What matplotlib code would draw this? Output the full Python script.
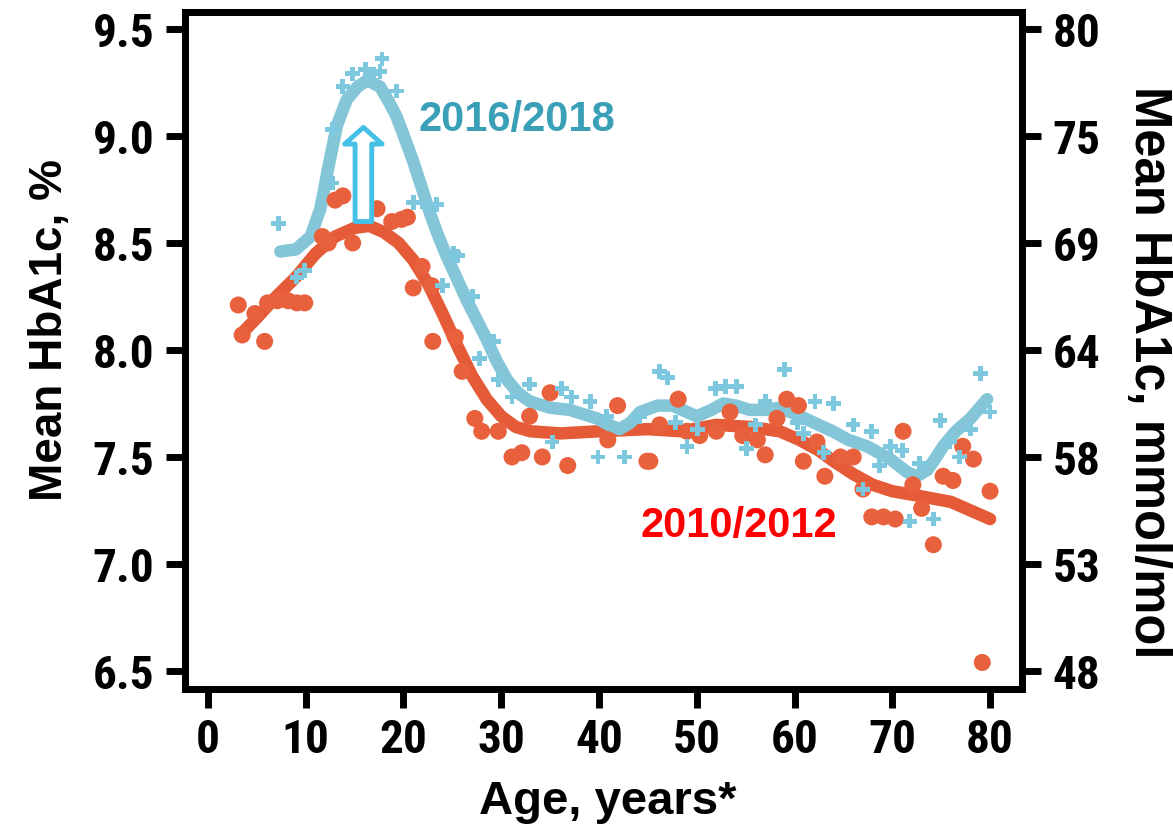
import matplotlib
matplotlib.use("Agg")
import matplotlib.pyplot as plt
from matplotlib import font_manager as fm
import numpy as np

# ---------------- data ----------------
red_age = [3.1, 3.5, 4.8, 5.8, 6.1, 7.1, 8.2, 9.1, 9.9, 11.7, 12.3, 13.0, 13.8, 14.8,
           17.3, 18.8, 19.8, 20.4, 21.0, 21.9, 22.9, 23.0, 25.3, 26.0, 27.3, 28.0,
           29.7, 31.1, 32.1, 32.9, 34.2, 35.0, 36.8, 40.9, 41.9, 44.9, 45.2, 46.2,
           48.1, 49.0, 50.3, 52.0, 53.4, 54.7, 56.2, 57.0, 58.2, 59.2, 60.4, 60.9,
           62.3, 63.1, 64.7, 66.0, 67.0, 67.9, 69.1, 70.3, 71.1, 72.1, 73.0, 74.2,
           75.2, 76.2, 77.2, 78.3, 79.2, 80.0]
red_val = [8.21, 8.07, 8.17, 8.04, 8.22, 8.23, 8.23, 8.22, 8.22, 8.53, 8.50, 8.70, 8.72, 8.50,
           8.66, 8.60, 8.61, 8.62, 8.29, 8.39, 8.30, 8.04, 8.06, 7.90, 7.68, 7.62,
           7.62, 7.50, 7.52, 7.69, 7.50, 7.80, 7.46, 7.58, 7.74, 7.48, 7.48, 7.65,
           7.77, 7.62, 7.60, 7.62, 7.71, 7.60, 7.58, 7.51, 7.68, 7.77, 7.74, 7.48,
           7.57, 7.41, 7.50, 7.50, 7.35, 7.22, 7.22, 7.21, 7.62, 7.37, 7.26, 7.09,
           7.41, 7.39, 7.55, 7.49, 6.54, 7.34]

blue_age = [7.2, 9.1, 9.9, 12.7, 12.7, 13.8, 14.8, 16.1, 16.9, 17.6, 17.8, 19.3,
            21.0, 22.4, 23.4, 24.0, 25.1, 25.5, 27.1, 27.8, 29.2, 29.7, 31.1, 32.9,
            35.2, 36.2, 37.2, 39.1, 39.9, 40.8, 42.6, 44.2, 46.2, 47.0, 47.8, 49.0,
            50.1, 51.9, 52.9, 54.1, 55.1, 56.0, 57.0, 59.0, 60.3, 60.9, 62.1, 63.0,
            64.0, 66.0, 67.0, 67.9, 68.7, 69.8, 71.0, 71.8, 72.8, 74.2, 74.9, 75.9,
            76.9, 78.0, 79.0, 80.0]
blue_val = [8.59, 8.34, 8.37, 9.03, 8.78, 9.23, 9.29, 9.31, 9.29, 9.30, 9.36, 9.21,
            8.69, 8.67, 8.68, 8.30, 8.45, 8.44, 8.25, 7.96, 8.04, 7.86, 7.78, 7.84,
            7.57, 7.82, 7.78, 7.76, 7.50, 7.69, 7.50, 7.69, 7.90, 7.87, 7.66, 7.55,
            7.63, 7.82, 7.83, 7.83, 7.54, 7.65, 7.76, 7.91, 7.66, 7.61, 7.76, 7.52,
            7.75, 7.65, 7.35, 7.62, 7.46, 7.55, 7.53, 7.20, 7.47, 7.21, 7.67, 7.57,
            7.50, 7.63, 7.89, 7.71]

red_fit_age = [3.3, 5, 7, 9, 11, 13, 15, 16.5, 18, 19.5, 21, 22.5, 24, 25.5, 27, 28.5,
               30, 31.5, 33, 36, 40, 45, 48.5, 52, 55.5, 58.5, 60.5, 62.5, 64, 66, 68,
               70, 72.5, 76, 78, 80]
red_fit_val = [8.07, 8.15, 8.25, 8.34, 8.45, 8.53, 8.57, 8.58, 8.55, 8.50, 8.42, 8.31,
               8.17, 8.02, 7.88, 7.77, 7.69, 7.64, 7.62, 7.61, 7.62, 7.63, 7.62, 7.65,
               7.64, 7.62, 7.58, 7.53, 7.48, 7.42, 7.37, 7.34, 7.32, 7.29, 7.25, 7.21]

blue_fit_age = [7.4, 9, 10.5, 11.5, 12.3, 13.2, 14.2, 15.3, 16.3, 17.6, 18.5, 19.3,
                20.2, 21, 22, 22.7, 23.5, 24.4, 25.5, 26.5, 27.5, 28.5, 29.5, 30.6,
                31.7, 32.9, 35, 37, 39.8, 41, 42.1, 43.2, 44.2, 46, 47.5, 49, 50, 51.5,
                52.7, 54, 55.4, 57, 58.5, 60.6, 62, 63.9, 65.5, 67.4, 69.8, 71.5, 72.5,
                73.6, 74.5, 75.2, 76.5, 78, 79.7]
blue_fit_val = [8.46, 8.47, 8.53, 8.66, 8.85, 9.05, 9.17, 9.23, 9.26, 9.23, 9.16, 9.09,
                8.98, 8.88, 8.74, 8.64, 8.54, 8.44, 8.33, 8.23, 8.14, 8.05, 7.95, 7.86,
                7.80, 7.76, 7.73, 7.72, 7.68, 7.65, 7.63, 7.66, 7.71, 7.74, 7.74, 7.71,
                7.69, 7.72, 7.75, 7.74, 7.72, 7.72, 7.73, 7.69, 7.66, 7.62, 7.58, 7.55,
                7.49, 7.43, 7.41, 7.44, 7.50, 7.55, 7.62, 7.68, 7.77]

x_ticks = [0, 10, 20, 30, 40, 50, 60, 70, 80]
y_ticks = [6.5, 7.0, 7.5, 8.0, 8.5, 9.0, 9.5]
y_ticklabels = ["6.5", "7.0", "7.5", "8.0", "8.5", "9.0", "9.5"]
y2_ticklabels = ["48", "53", "58", "64", "69", "75", "80"]

# ---------------- fonts ----------------
def has_font(name):
    try:
        fm.findfont(fm.FontProperties(family=name), fallback_to_default=False)
        return True
    except Exception:
        return False

tick_font = "Liberation Sans"
tick_size = 32
for cand, sz in [("Liberation Sans Narrow", 35), ("Roboto Condensed", 34)]:
    if has_font(cand):
        tick_font, tick_size = cand, sz
        break
fnt = dict(family=tick_font, weight="bold")
lab = dict(family="Liberation Sans", weight="bold")

RED_DOT = "#e8603c"
RED_LINE = "#e55b37"
BLUE_PT = "#7ec8df"
BLUE_LINE = "#84c6d8"

fig = plt.figure(figsize=(11.73, 8.29), dpi=100)
ax = fig.add_axes([0.1577, 0.1677, 0.8713 - 0.1577, 0.9843 - 0.1677])

ax.plot(red_fit_age, red_fit_val, color=RED_LINE, lw=9, solid_capstyle="round",
        solid_joinstyle="round", zorder=3)
ax.plot(blue_fit_age, blue_fit_val, color=BLUE_LINE, lw=9, solid_capstyle="round",
        solid_joinstyle="round", zorder=4)
ax.scatter(red_age, red_val, s=150, color=RED_DOT, edgecolors="none", zorder=5)
ax.scatter(blue_age, blue_val, s=110, marker="P", color=BLUE_PT, edgecolors="none", zorder=6)

# hollow arrow
ax.annotate("", xy=(15.9, 9.04), xytext=(15.9, 8.60),
            arrowprops=dict(arrowstyle="simple,head_length=0.6,head_width=1.35,tail_width=0.6",
                            fc="white", ec="#45c0e6", lw=3.5, mutation_scale=20,
                            shrinkA=0, shrinkB=0),
            zorder=7)

ax.text(21.5, 9.08, "2016/2018", color="#3aa0b8", fontsize=30, ha="left", va="center",
        zorder=8, **lab)
ax.text(44.2, 7.18, "2010/2012", color="#ff0000", fontsize=30, ha="left", va="center",
        zorder=8, **lab)

ax.set_xlim(-2.35, 83.27)
ax.set_ylim(6.416, 9.579)
ax.set_xticks(x_ticks)
ax.set_xticklabels([str(t) for t in x_ticks], fontsize=tick_size, **fnt)
ax.set_yticks(y_ticks)
ax.set_yticklabels(y_ticklabels, fontsize=tick_size, **fnt)

for sp in ax.spines.values():
    sp.set_linewidth(5)
ax.tick_params(axis="both", direction="out", length=14, width=5, pad=6)
ax.tick_params(axis="y", pad=8)

ax2 = ax.twinx()
ax2.set_ylim(ax.get_ylim())
ax2.set_yticks(y_ticks)
ax2.set_yticklabels(y2_ticklabels, fontsize=tick_size, **fnt)
ax2.tick_params(axis="y", direction="out", length=14, width=5, pad=8)
for sp in ax2.spines.values():
    sp.set_linewidth(5)

ax.set_xlabel("Age, years*", fontsize=34, va="center", **lab)
ax.xaxis.set_label_coords(0.505, -0.165)
ax.set_ylabel("Mean HbA1c, %", fontsize=33, va="center", **lab)
ax.yaxis.set_label_coords(-0.161, 0.532)
ax2.set_ylabel("Mean HbA1c, mmol/mol", fontsize=36.5, rotation=270, va="center", **lab)
ax2.yaxis.set_label_coords(1.151, 0.47)

fig.savefig("out.png", dpi=100)
